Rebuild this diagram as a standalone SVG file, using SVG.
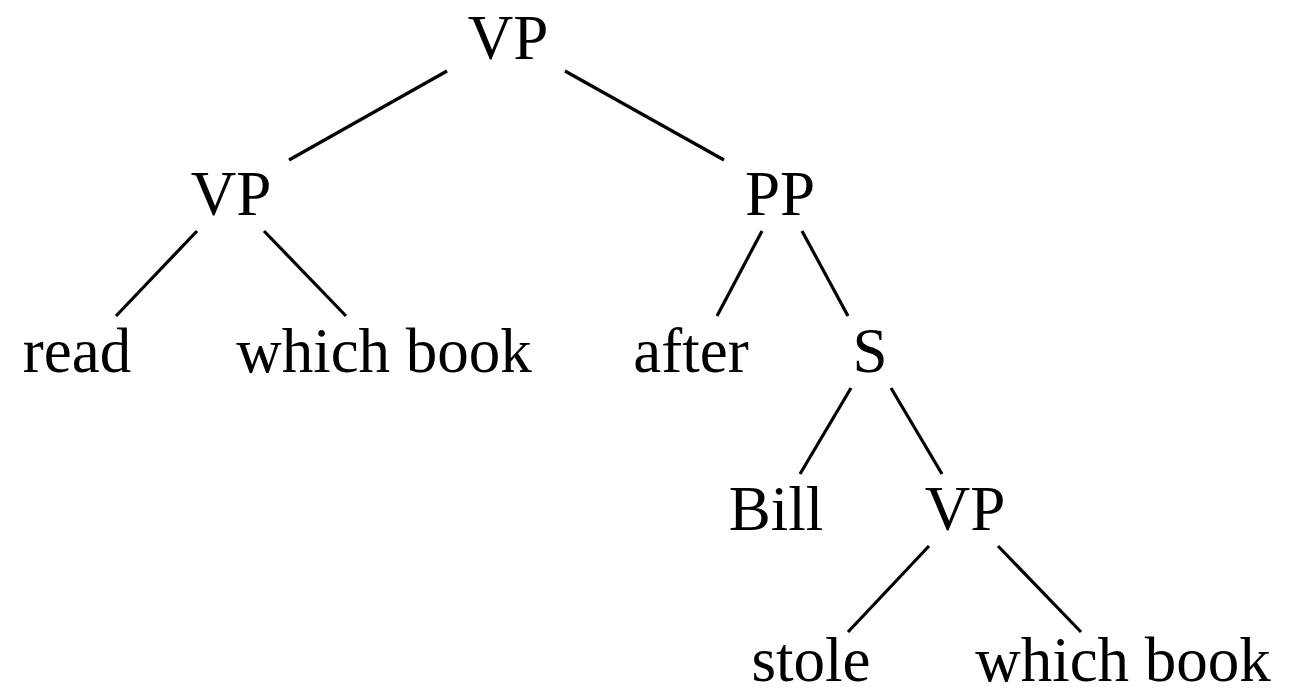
<svg xmlns="http://www.w3.org/2000/svg" width="1294" height="695" viewBox="0 0 1294 695">
<style>
text{font-family:"Liberation Serif","Times New Roman",serif;font-size:63px;fill:#000;text-anchor:middle}
.e line{stroke:#000;stroke-width:3.2;stroke-linecap:butt}
</style>
<rect width="1294" height="695" fill="#fff"/>
<g class="e" id="edges">
<line x1="447" y1="71" x2="289" y2="160"/>
<line x1="565" y1="71" x2="724" y2="160"/>
<line x1="197" y1="231" x2="116" y2="316"/>
<line x1="264" y1="231" x2="346" y2="316"/>
<line x1="762" y1="231" x2="717" y2="316"/>
<line x1="802" y1="231" x2="848" y2="316"/>
<line x1="851" y1="388" x2="800" y2="474"/>
<line x1="891" y1="388" x2="942" y2="474"/>
<line x1="929" y1="546" x2="848" y2="632"/>
<line x1="998" y1="546" x2="1081" y2="632"/>
</g>
<g id="n-vp-top"><text x="508" y="59">VP</text></g>
<g id="n-vp-left"><text x="231" y="215">VP</text></g>
<g id="n-pp"><text x="780" y="215">PP</text></g>
<g id="n-read"><text x="77" y="372">read</text></g>
<g id="n-which1"><text x="384" y="372">which book</text></g>
<g id="n-after"><text x="691" y="372">after</text></g>
<g id="n-s"><text x="870" y="372">S</text></g>
<g id="n-bill"><text x="776" y="530">Bill</text></g>
<g id="n-vp-low"><text x="965" y="530">VP</text></g>
<g id="n-stole"><text x="811" y="681">stole</text></g>
<g id="n-which2"><text x="1123" y="681">which book</text></g>
</svg>
